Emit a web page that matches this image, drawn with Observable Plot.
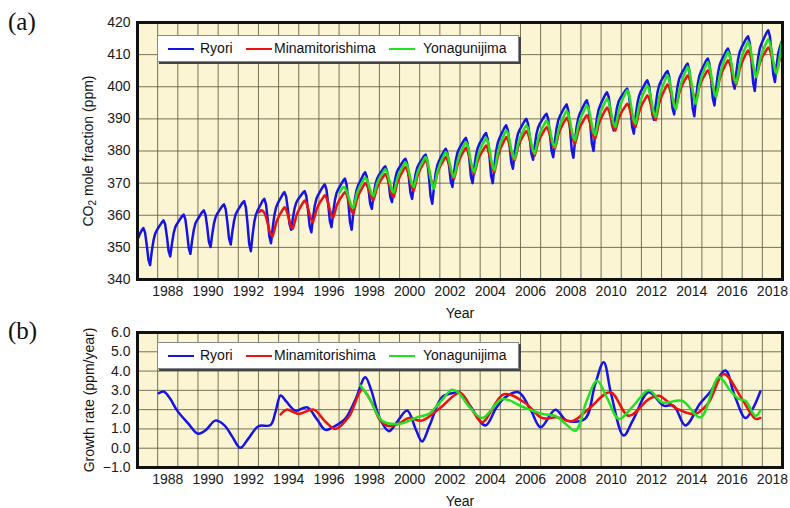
<!DOCTYPE html>
<html><head><meta charset="utf-8">
<script src="https://cdn.jsdelivr.net/npm/d3@7"></script>
<script src="https://cdn.jsdelivr.net/npm/@observablehq/plot@0.6"></script>
<style>
body{margin:0;background:#fff;font-family:"Liberation Sans",Arial,sans-serif;color:#111;}
#wrap{position:relative;width:790px;height:508px;overflow:hidden;}
.panel{position:absolute;left:0;}
.tag{position:absolute;left:8px;font-family:"Liberation Serif","Times New Roman",serif;font-size:25px;line-height:1;}
.ylab{position:absolute;font-size:14px;white-space:nowrap;transform:translate(-50%,-50%) rotate(-90deg);line-height:1;}
.xlab{position:absolute;font-size:14px;transform:translate(-50%,-50%);line-height:1;}
.legend{position:absolute;left:157px;width:360px;height:25px;background:#fff;border:1px solid #888;box-shadow:2px 2px 0 #444;font-size:14px;}
.legend .sw{position:absolute;top:12px;height:2px;}
.legend .lt{position:absolute;top:4px;line-height:16px;}
sub{font-size:10px;vertical-align:-3px;}
</style></head>
<body><div id="wrap"></div>
<script>
// ---------------- data ----------------
const ryoriStart = 1987;
const ryori = [
353.0,354.3,355.3,356.0,354.6,350.8,346.2,344.5,348.7,352.1,354.2,355.3,
356.2,357.0,357.8,358.4,357.1,353.4,348.9,347.2,351.1,354.4,356.3,357.3,
358.1,358.9,359.7,360.2,358.7,354.7,349.8,348.0,352.1,355.4,357.5,358.5,
359.3,360.2,361.0,361.5,360.1,356.4,351.8,350.1,354.1,357.4,359.4,360.5,
361.3,362.1,362.9,363.4,361.9,357.8,352.8,350.9,355.0,358.3,360.4,361.4,
362.2,363.1,363.9,364.4,362.5,357.4,351.1,348.8,353.7,357.8,360.2,361.5,
362.5,363.5,364.5,365.1,363.4,358.9,353.4,351.3,356.1,360.1,362.4,363.7,
364.7,365.6,366.6,367.2,365.8,361.9,357.3,355.5,359.1,362.1,363.9,364.9,
365.6,366.3,367.0,367.5,366.0,361.7,356.6,354.7,359.2,362.9,365.1,366.3,
367.2,368.1,369.0,369.6,368.0,363.6,358.3,356.3,360.8,364.6,366.9,368.1,
369.0,369.9,370.8,371.4,369.5,364.2,357.9,355.5,360.9,365.4,368.0,369.5,
370.5,371.6,372.7,373.4,372.0,368.3,363.7,362.0,366.0,369.3,371.2,372.3,
373.1,373.9,374.7,375.2,373.9,370.2,365.8,364.1,368.2,371.5,373.6,374.6,
375.4,376.3,377.1,377.6,376.1,372.0,367.0,365.1,369.2,372.7,374.8,375.9,
376.7,377.5,378.4,378.9,377.1,372.0,365.9,363.6,368.7,373.0,375.6,376.9,
378.0,379.0,380.0,380.7,379.3,375.3,370.6,368.8,373.4,377.2,379.5,380.7,
381.7,382.6,383.5,384.1,382.4,377.8,372.1,370.0,374.7,378.6,380.9,382.2,
383.1,384.0,385.0,385.6,383.7,378.6,372.3,370.0,375.4,379.9,382.6,384.0,
385.1,386.2,387.3,388.0,386.4,381.9,376.5,374.5,379.2,383.0,385.4,386.6,
387.5,388.5,389.4,390.0,388.5,384.3,379.2,377.3,381.6,385.2,387.3,388.5,
389.3,390.2,391.0,391.6,390.0,385.5,380.1,378.1,383.0,387.1,389.6,390.9,
391.9,392.9,393.8,394.5,392.5,387.0,380.4,377.9,383.3,387.8,390.4,391.9,
392.9,394.0,395.1,395.8,393.9,388.7,382.4,380.0,385.5,390.1,392.8,394.3,
395.4,396.5,397.6,398.3,396.9,392.9,388.2,386.4,390.3,393.6,395.5,396.5,
397.3,398.1,398.9,399.4,397.7,393.1,387.5,385.4,390.4,394.5,397.0,398.4,
399.3,400.3,401.3,402.0,400.5,396.5,391.5,389.7,394.3,398.1,400.3,401.6,
402.5,403.4,404.3,404.9,403.3,398.8,393.4,391.4,396.1,400.1,402.5,403.7,
404.7,405.6,406.6,407.2,405.2,399.8,393.3,390.8,396.2,400.7,403.4,404.8,
405.9,407.0,408.1,408.8,407.1,402.2,396.4,394.2,399.5,403.9,406.6,408.0,
409.1,410.1,411.2,411.9,410.4,406.3,401.3,399.4,404.3,408.4,410.8,412.1,
413.1,414.1,415.1,415.7,413.7,408.1,401.3,398.7,404.4,409.1,411.9,413.4,
414.6,415.7,416.8,417.6,415.7,410.4,403.9,401.5,406.5,410.5,412.5,414.0
];
const minamiStart = 1993;
const minami = [
361.0,361.6,361.4,360.8,359.5,357.5,355.3,353.9,353.5,355.3,357.6,358.9,
360.0,360.9,361.8,362.5,361.8,360.2,358.1,356.5,355.8,357.6,359.8,361.1,
362.1,363.0,363.9,364.6,363.9,362.3,360.2,358.6,357.9,359.6,361.6,362.9,
363.9,364.7,365.5,366.2,365.5,363.8,361.7,360.0,359.3,360.9,362.9,364.0,
365.0,365.8,366.6,367.2,366.5,364.9,362.8,361.2,360.5,362.4,364.8,366.2,
367.3,368.3,369.2,370.0,369.5,368.2,366.6,365.3,364.8,366.4,368.4,369.6,
370.6,371.4,372.2,372.8,372.1,370.3,368.1,366.3,365.6,367.5,369.8,371.2,
372.4,373.3,374.3,375.0,374.3,372.4,370.3,368.4,367.7,369.6,371.9,373.3,
374.5,375.4,376.4,377.1,376.3,374.2,371.7,369.6,368.8,370.7,373.0,374.4,
375.5,376.4,377.4,378.1,377.4,375.8,373.7,372.1,371.4,373.3,375.7,377.2,
378.3,379.3,380.2,381.0,380.2,378.2,375.7,373.7,372.9,374.7,376.9,378.2,
379.2,380.1,381.0,381.7,380.9,378.8,376.3,374.2,373.4,375.6,378.3,379.9,
381.3,382.3,383.4,384.3,383.6,381.8,379.6,377.8,377.1,378.9,381.2,382.6,
383.7,384.6,385.5,386.2,385.4,383.5,381.3,379.4,378.6,380.4,382.6,383.9,
384.9,385.8,386.7,387.4,386.7,385.1,383.0,381.4,380.7,382.6,385.0,386.5,
387.6,388.6,389.5,390.3,389.5,387.5,385.1,383.1,382.3,384.1,386.3,387.6,
388.6,389.5,390.4,391.1,390.4,388.5,386.4,384.5,383.8,385.7,388.2,389.6,
390.8,391.8,392.7,393.5,392.8,391.0,388.9,387.1,386.4,388.1,390.1,391.4,
392.4,393.2,394.0,394.7,394.0,392.2,390.0,388.2,387.5,389.5,391.9,393.4,
394.6,395.5,396.5,397.3,396.5,394.6,392.4,390.5,389.7,391.9,394.7,396.3,
397.6,398.7,399.8,400.7,400.0,398.2,396.0,394.2,393.5,395.5,398.0,399.5,
400.7,401.7,402.7,403.5,402.7,400.8,398.5,396.6,395.8,397.7,400.0,401.4,
402.5,403.4,404.4,405.1,404.3,402.4,400.0,398.1,397.3,399.5,402.2,403.8,
405.2,406.2,407.3,408.2,407.5,405.6,403.3,401.5,400.7,402.8,405.5,407.1,
408.3,409.4,410.5,411.3,410.5,408.6,406.2,404.3,403.5,405.2,407.4,408.7,
409.8,410.6,411.5,412.2,411.5,409.7,407.6,405.8,405.1,406.8,408.8,410.3
];
const yonaStart = 1997;
const yona = [
367.2,368.2,368.8,368.6,367.5,366.0,364.2,362.8,362.3,364.2,366.6,368.0,
369.1,370.1,371.0,371.8,371.2,369.8,368.0,366.6,366.0,367.7,369.7,371.0,
372.0,372.8,373.6,374.3,373.6,371.7,369.6,367.7,367.0,368.9,371.3,372.7,
373.8,374.8,375.7,376.5,375.7,373.8,371.5,369.6,368.8,370.7,373.0,374.4,
375.5,376.4,377.4,378.1,377.1,374.7,371.7,369.3,368.3,370.6,373.4,375.1,
376.5,377.7,378.8,379.7,378.9,377.0,374.6,372.7,371.9,374.1,376.8,378.4,
379.8,380.8,381.9,382.8,381.9,379.5,376.7,374.3,373.4,375.5,378.2,379.8,
381.1,382.2,383.2,384.1,383.1,380.6,377.5,375.0,374.0,376.5,379.6,381.4,
382.9,384.2,385.4,386.4,385.5,383.3,380.6,378.4,377.5,379.6,382.2,383.8,
385.1,386.1,387.2,388.0,387.1,384.9,382.3,380.1,379.2,381.3,383.8,385.4,
386.6,387.7,388.7,389.5,388.7,386.6,384.1,382.0,381.2,383.5,386.3,388.0,
389.3,390.5,391.6,392.5,391.6,389.3,386.5,384.2,383.3,385.5,388.2,389.8,
391.2,392.2,393.3,394.2,393.3,390.9,388.2,385.8,384.9,387.2,390.0,391.7,
393.1,394.3,395.4,396.3,395.4,393.2,390.6,388.4,387.5,389.8,392.6,394.3,
395.7,396.9,398.0,398.9,397.9,395.3,392.1,389.5,388.5,390.9,393.9,395.6,
397.1,398.3,399.5,400.4,399.4,397.0,394.0,391.6,390.6,393.2,396.5,398.4,
400.0,401.3,402.6,403.6,402.5,399.9,396.7,394.1,393.0,395.6,398.9,400.9,
402.5,403.8,405.1,406.2,405.1,402.2,398.7,395.9,394.7,397.3,400.6,402.5,
404.1,405.4,406.7,407.7,406.6,403.9,400.6,397.9,396.8,399.6,403.1,405.3,
407.0,408.4,409.8,410.9,409.9,407.5,404.5,402.1,401.1,403.7,406.9,408.8,
410.4,411.7,413.0,414.0,412.9,410.2,406.9,404.1,403.0,405.4,408.3,410.1,
411.5,412.7,413.9,414.8,413.7,411.1,407.8,405.1,404.1,406.5,410.0,413.8
];

// growth rate [year, ppm/year]
const ryoriGrowth = [
[1988.05,2.85],[1988.3,2.94],[1988.6,2.6],[1988.97,1.95],[1989.5,1.3],[1990.0,0.75],[1990.4,0.95],
[1990.86,1.43],[1991.3,1.2],[1991.7,0.6],[1992.1,0.02],[1992.5,0.5],[1993.0,1.14],[1993.6,1.2],
[1993.85,1.9],[1994.1,2.73],[1994.4,2.4],[1994.84,1.95],[1995.42,2.12],[1995.9,1.5],[1996.33,0.95],
[1996.8,1.15],[1997.3,1.52],[1997.8,2.5],[1998.3,3.68],[1998.6,3.0],[1999.0,1.6],[1999.47,0.88],
[1999.9,1.4],[2000.38,1.95],[2000.8,1.0],[2001.12,0.35],[2001.5,1.2],[2002.1,2.64],[2002.6,2.85],
[2003.0,2.88],[2003.5,2.2],[2004.26,1.18],[2004.8,2.1],[2005.25,2.64],[2005.9,2.9],[2006.5,2.0],
[2007.0,1.09],[2007.73,1.99],[2008.3,1.43],[2009.2,1.52],[2009.7,3.3],[2010.13,4.46],[2010.5,2.8],
[2011.12,0.66],[2011.6,1.5],[2012.36,2.9],[2013.1,2.21],[2013.6,2.2],[2014.18,1.18],[2014.9,2.3],
[2015.4,2.9],[2016.17,4.03],[2016.6,2.8],[2017.16,1.57],[2017.5,2.0],[2017.9,2.94]
];
const minamiGrowth = [
[1994.1,1.75],[1994.4,2.0],[1995.0,1.78],[1995.74,2.0],[1996.3,1.4],[1996.82,1.0],[1997.5,1.66],
[1998.15,3.03],[1998.6,2.4],[1999.05,1.43],[1999.47,1.15],[2000.0,1.3],[2000.46,1.57],[2001.1,1.43],
[2002.03,2.1],[2003.0,2.88],[2003.6,2.0],[2004.1,1.35],[2005.17,2.8],[2006.2,2.37],[2007.07,1.57],
[2007.8,1.6],[2008.56,1.4],[2009.39,2.04],[2010.46,2.9],[2011.37,1.68],[2012.37,2.55],[2012.86,2.72],
[2013.77,2.04],[2014.68,1.78],[2015.34,2.37],[2016.08,3.85],[2016.99,2.55],[2017.66,1.52],[2017.9,1.57]
];
const yonaGrowth = [
[1998.06,3.25],[1998.5,2.6],[1999.13,1.43],[1999.97,1.26],[2000.96,1.64],[2001.45,1.78],[2002.1,2.5],
[2002.6,3.03],[2002.9,2.9],[2003.5,2.1],[2004.1,1.57],[2005.1,2.55],[2006.1,2.15],[2007.07,1.78],
[2007.73,1.68],[2008.2,1.3],[2008.73,0.91],[2009.3,2.5],[2009.8,3.5],[2010.3,2.6],[2010.88,1.52],
[2011.6,2.2],[2012.37,3.0],[2013.03,2.37],[2014.02,2.46],[2014.93,1.6],[2015.84,3.68],[2016.4,3.0],
[2016.83,2.55],[2017.16,2.46],[2017.66,1.68],[2017.9,1.95]
];

const stations = ["Ryori","Minamitorishima","Yonagunijima"];
const colors = ["#1414e6","#ee1111","#22e022"];
const gridYears = d3.range(1987, 2020);
const labelYears = [1988,1990,1992,1994,1996,1998,2000,2002,2004,2006,2008,2010,2012,2014,2016,2018];
const co2Ticks = [340,350,360,370,380,390,400,410,420];
const growthTicks = [-1,0,1,2,3,4,5,6];

// ---------------- build ----------------
const monthly = (vals, start, name) => vals.map((v, i) => ({t: start + (i + 0.5) / 12, v, name}));
const co2 = [...monthly(ryori, ryoriStart, stations[0]), ...monthly(minami, minamiStart, stations[1]), ...monthly(yona, yonaStart, stations[2])];
const pairs = (arr, name) => arr.map(([t, v]) => ({t, v, name}));
const growth = [...pairs(ryoriGrowth, stations[0]), ...pairs(minamiGrowth, stations[1]), ...pairs(yonaGrowth, stations[2])];

const bg = "#fcf5d4", gridC = "#5f5a40";
const style = {fontFamily: "'Liberation Sans', Arial, sans-serif", fontSize: "14px", color: "#1a1a1a", background: "transparent"};

function panel(data, yDomain, yTicks, yFmt, height, mt, curve) {
  return Plot.plot({
    width: 790, height, marginLeft: 137, marginRight: 8, marginTop: mt, marginBottom: 41,
    style,
    x: {domain: [1987, 2019], axis: null},
    y: {domain: yDomain, axis: null},
    color: {domain: stations, range: colors},
    marks: [
      Plot.frame({fill: bg}),
      Plot.gridX(gridYears, {stroke: gridC, strokeOpacity: 0.85, strokeWidth: 1}),
      Plot.gridY(yTicks, {stroke: gridC, strokeOpacity: 0.85, strokeWidth: 1}),
      ...stations.map(s => Plot.line(data.filter(d => d.name === s), {x: "t", y: "v", stroke: "name", strokeWidth: 2.5, curve})),
      Plot.frame({stroke: "#111", strokeWidth: 3}),
      Plot.axisY(yTicks, {tickSize: 0, tickPadding: 7, tickFormat: yFmt, label: null}),
      Plot.axisX(labelYears.map(y => y + 0.5), {tickSize: 0, tickPadding: 7, tickFormat: d => String(d - 0.5), label: null})
    ]
  });
}

const wrap = document.getElementById("wrap");
const topChart = panel(co2, [340, 420], co2Ticks, d => String(d), 320, 22, "linear");
const botChart = panel(growth, [-1, 6], growthTicks, d => d < 0 ? "\u2212" + Math.abs(d).toFixed(1) : d.toFixed(1), 188, 12, "catmull-rom");
const p1 = document.createElement("div"); p1.className = "panel"; p1.style.top = "0px"; p1.appendChild(topChart);
const p2 = document.createElement("div"); p2.className = "panel"; p2.style.top = "320px"; p2.appendChild(botChart);
wrap.appendChild(p1); wrap.appendChild(p2);

function legend(topPx) {
  const L = document.createElement("div"); L.className = "legend"; L.style.top = topPx + "px";
  const items = [[10, 42], [88, 116], [231, 265]];
  stations.forEach((s, i) => {
    const sw = document.createElement("div"); sw.className = "sw";
    sw.style.left = items[i][0] + "px"; sw.style.width = "26px"; sw.style.background = colors[i];
    const t = document.createElement("div"); t.className = "lt"; t.style.left = items[i][1] + "px"; t.textContent = s;
    L.appendChild(sw); L.appendChild(t);
  });
  wrap.appendChild(L);
}
legend(35); legend(342);

function html(cls, css, inner) {
  const d = document.createElement("div"); d.className = cls; Object.assign(d.style, css); d.innerHTML = inner; wrap.appendChild(d);
}
html("tag", {top: "9px"}, "(a)");
html("tag", {top: "318px"}, "(b)");
html("ylab", {left: "89px", top: "151px"}, "CO<sub>2</sub> mole fraction (ppm)");
html("ylab", {left: "89px", top: "400px"}, "Growth rate (ppm/year)");
html("xlab", {left: "460px", top: "313px"}, "Year");
html("xlab", {left: "460px", top: "501px"}, "Year");
</script></body></html>
